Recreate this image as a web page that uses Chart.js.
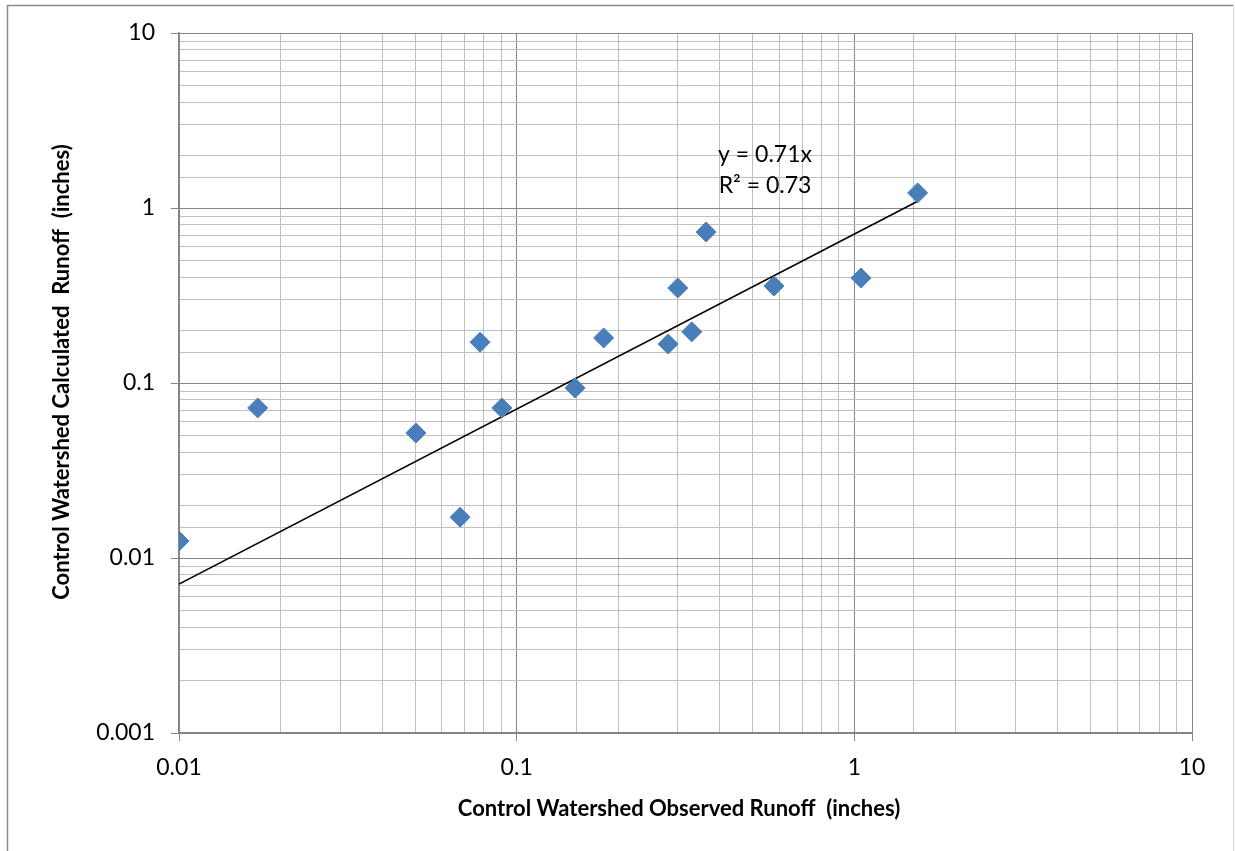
<!DOCTYPE html>
<html>
<head>
<meta charset="utf-8">
<script src="https://cdn.jsdelivr.net/npm/chart.js@4/dist/chart.umd.min.js"></script>
<style>
  html, body { margin: 0; padding: 0; background: #fff; }
  #wrap { width: 1235px; height: 851px; position: relative; }
</style>
</head>
<body>
<div id="wrap"><canvas id="c" width="1235" height="851"></canvas></div>
<script>
// Observed (x) and calculated (y) runoff, inches
const observedRunoff   = [0.0100, 0.0171, 0.0503, 0.0680, 0.0779, 0.0904, 0.149, 0.181, 0.281, 0.300, 0.330, 0.364, 0.578, 1.046, 1.54];
const calculatedRunoff = [0.0125, 0.0720, 0.0518, 0.0171, 0.171, 0.0720, 0.0936, 0.181, 0.167, 0.349, 0.196, 0.729, 0.358, 0.398, 1.22];
// Trendline y = 0.71x drawn between its end points
const trendX = [0.01, 1.54];
const trendY = [0.0071, 1.093];
const xTickLabels = ['0.01', '0.1', '1', '10'];
const yTickLabels = ['0.001', '0.01', '0.1', '1', '10'];
const equationLines = ['y = 0.71x', 'R\u00B2 = 0.73'];
const xTitle = 'Control Watershed Observed Runoff  (inches)';
const yTitle = 'Control Watershed Calculated  Runoff  (inches)';

const FONT = "Lato, 'Open Sans', 'DejaVu Sans', sans-serif";

function isPow10(v) {
  const l = Math.log10(v);
  return Math.abs(l - Math.round(l)) < 1e-6;
}
function fmt(v, labels) {
  if (!isPow10(v)) return '';
  const s = String(+v.toPrecision(1));
  return labels.includes(s) ? s : '';
}

const framePlugin = {
  id: 'frame',
  beforeDraw(chart) {
    const ctx = chart.ctx;
    ctx.save();
    ctx.fillStyle = '#fff';
    ctx.fillRect(0, 0, chart.width, chart.height);
    ctx.strokeStyle = '#8a8a8a';
    ctx.lineWidth = 1.5;
    ctx.beginPath();
    ctx.moveTo(7.5, 860);
    ctx.lineTo(7.5, 5.5);
    ctx.lineTo(1233.5, 5.5);
    ctx.stroke();
    ctx.strokeStyle = '#d9d9d9';
    ctx.lineWidth = 1;
    ctx.beginPath();
    ctx.moveTo(1233.5, 5.5);
    ctx.lineTo(1233.5, 860);
    ctx.stroke();
    ctx.restore();
  },
  afterDraw(chart) {
    const ctx = chart.ctx;
    ctx.save();
    ctx.fillStyle = '#000';
    ctx.textAlign = 'center';
    ctx.textBaseline = 'middle';
    ctx.font = "23px " + FONT;
    ctx.fillText(equationLines[0], 765, 155);
    ctx.fillText(equationLines[1], 765, 186);
    ctx.font = "bold 22px " + FONT;
    ctx.fillText(xTitle, 679, 809);
    ctx.translate(62, 372);
    ctx.rotate(-Math.PI / 2);
    ctx.fillText(yTitle, 0, 0);
    ctx.restore();
  }
};

const gridColor = (ctx) => (ctx.tick && isPow10(ctx.tick.value)) ? '#868686' : '#bfbfbf';
const tickColor = (ctx) => (ctx.tick && isPow10(ctx.tick.value)) ? '#868686' : 'rgba(0,0,0,0)';

new Chart(document.getElementById('c'), {
  type: 'scatter',
  data: {
    datasets: [
      {
        label: 'Runoff',
        data: observedRunoff.map((x, i) => ({ x: x, y: calculatedRunoff[i] })),
        pointStyle: 'rectRot',
        pointRadius: 10,
        pointHoverRadius: 10,
        backgroundColor: '#4A7EBB',
        borderColor: '#4A7EBB',
        borderWidth: 1,
        order: 1
      },
      {
        label: 'Trend',
        type: 'line',
        data: trendX.map((x, i) => ({ x: x, y: trendY[i] })),
        borderColor: '#000',
        borderWidth: 1.6,
        pointRadius: 0,
        fill: false,
        order: 2
      }
    ]
  },
  options: {
    responsive: false,
    animation: false,
    events: [],
    layout: { padding: { left: 0, top: 33, right: 43, bottom: 0 } },
    plugins: { legend: { display: false }, tooltip: { enabled: false } },
    scales: {
      x: {
        type: 'logarithmic',
        min: 0.01, max: 10,
        afterFit(s) { s.height = 118; },
        grid: { color: gridColor, tickColor: tickColor, tickLength: 8, lineWidth: 1 },
        border: { color: '#868686', width: 1.5 },
        ticks: {
          autoSkip: false, maxRotation: 0, padding: 13,
          color: '#000', font: { family: FONT, size: 23 },
          callback: (v) => fmt(v, xTickLabels)
        }
      },
      y: {
        type: 'logarithmic',
        min: 0.001, max: 10,
        afterFit(s) { s.width = 179; },
        grid: { color: gridColor, tickColor: tickColor, tickLength: 8, lineWidth: 1 },
        border: { color: '#868686', width: 1.5 },
        ticks: {
          autoSkip: false, padding: 16,
          color: '#000', font: { family: FONT, size: 23 },
          callback: (v) => fmt(v, yTickLabels)
        }
      }
    }
  },
  plugins: [framePlugin]
});
</script>
</body>
</html>
